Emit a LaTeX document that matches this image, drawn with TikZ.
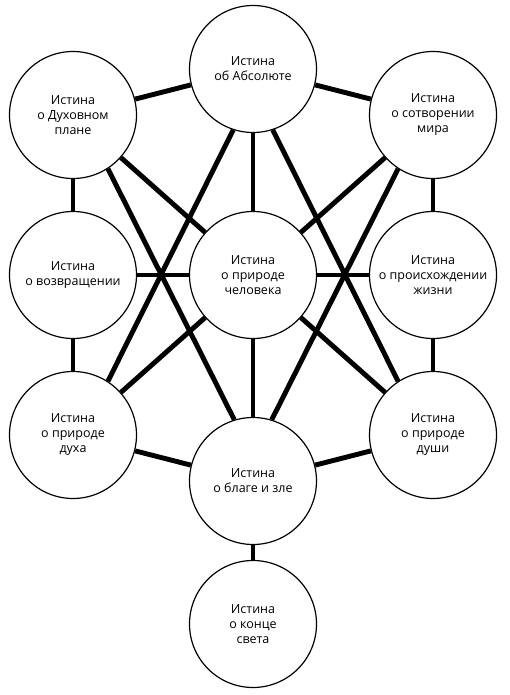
\documentclass[tikz,border=0pt]{standalone}
\usepackage{fontspec}
\setmainfont{Open Sans}

\begin{document}
\begin{tikzpicture}[
  orb/.style={circle, draw=black, fill=white, line width=1.7pt, minimum size=6.35cm,
    inner sep=0pt, align=center, font=\fontsize{17.8pt}{21.3pt}\selectfont},
  bond/.style={draw=black, line width=7pt}]

% Background
\fill[white] (-12.65,-21.0) rectangle (12.85,13.75);

%%% Circles %%%
\node[orb] (absolute)  at (0,10.3)   {Истина\\об Абсолюте};
\node[orb] (plane)     at (-9,8)     {Истина\\о Духовном\\плане};
\node[orb] (creation)  at (9,8)      {Истина\\о сотворении\\мира};
\node[orb] (returning) at (-9,0)     {Истина\\о возвращении};
\node[orb] (human)     at (0,0)      {Истина\\о природе\\человека};
\node[orb] (origin)    at (9,0)      {Истина\\о происхождении\\жизни};
\node[orb] (spirit)    at (-9,-8)    {Истина\\о природе\\духа};
\node[orb] (good)      at (0,-10.3)  {Истина\\о благе и зле};
\node[orb] (soul)      at (9,-8)     {Истина\\о природе\\души};
\node[orb] (worldend)  at (0,-17.45) {Истина\\о конце\\света};

%%% Vertical links %%%
\draw[bond] (absolute) -- (human);
\draw[bond] (human) -- (good);
\draw[bond] (good) -- (worldend);
\draw[bond] (plane) -- (returning);
\draw[bond] (returning) -- (spirit);
\draw[bond] (creation) -- (origin);
\draw[bond] (origin) -- (soul);

%%% Horizontal links %%%
\draw[bond] (returning) -- (human);
\draw[bond] (human) -- (origin);

%%% Slanted links %%%
\draw[bond] (absolute) -- (plane);
\draw[bond] (absolute) -- (creation);
\draw[bond] (spirit) -- (good);
\draw[bond] (good) -- (soul);
\draw[bond] (plane) -- (human);
\draw[bond] (creation) -- (human);
\draw[bond] (human) -- (spirit);
\draw[bond] (human) -- (soul);

% Long diagonals
\draw[bond] (absolute.252) -- (spirit.57);
\draw[bond] (absolute.288) -- (soul.123);
\draw[bond] (plane.303) -- (good.107);
\draw[bond] (creation.237) -- (good.73);

\end{tikzpicture}
\end{document}
